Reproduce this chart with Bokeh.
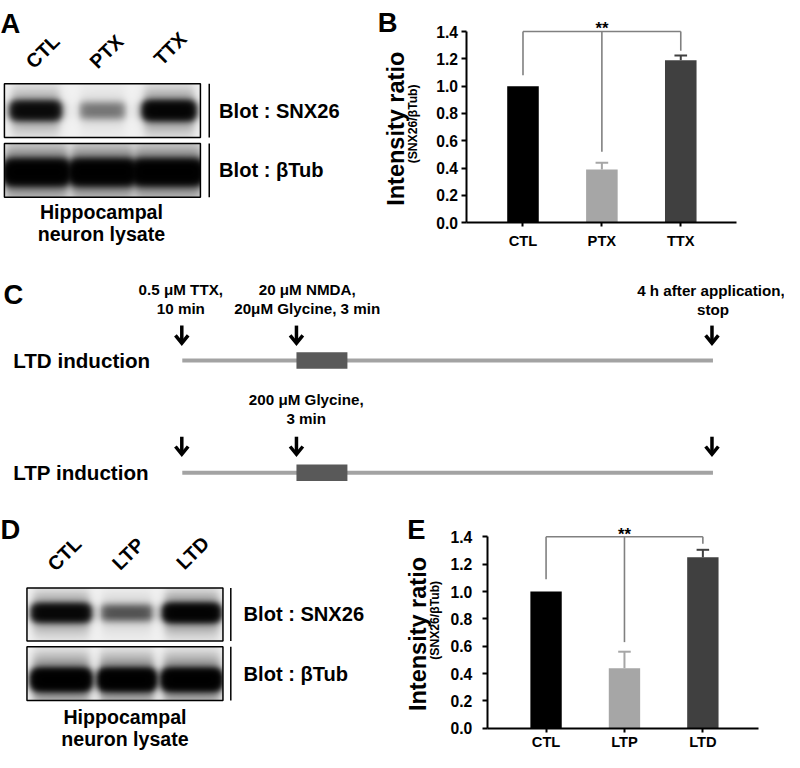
import numpy as np
from bokeh.plotting import figure
from bokeh.models import Range1d, LinearAxis, FixedTicker, NumeralTickFormatter
from bokeh.core.properties import value
from bokeh.embed import file_html
from bokeh.resources import INLINE

S = 0.98            # page pixels per reference pixel
FONT = "Liberation Sans"

# ---------------- data ----------------
blotA_lanes = ["CTL", "PTX", "TTX"]
blotA_snx26 = [0.9, 0.2, 1.1]
blotA_btub = [1.6, 1.6, 1.6]

blotD_lanes = ["CTL", "LTP", "LTD"]
blotD_snx26 = [1.0, 0.3, 1.2]
blotD_btub = [1.6, 1.6, 1.6]

b_categories = ["CTL", "PTX", "TTX"]
b_values = [1.0, 0.39, 1.19]
b_errors = [0.0, 0.05, 0.035]
b_bracket_top = 1.40
b_bracket_feet = [1.08, 0.52, 1.26]

e_categories = ["CTL", "LTP", "LTD"]
e_values = [1.0, 0.44, 1.25]
e_errors = [0.0, 0.12, 0.055]
e_bracket_top = 1.40
e_bracket_feet = [1.09, 0.63, 1.35]

y_ticks = [0.0, 0.2, 0.4, 0.6, 0.8, 1.0, 1.2, 1.4]
bar_colors = ["#000000", "#a6a6a6", "#404040"]
y_title = "Intensity ratio"
y_subtitle = "(SNX26/βTub)"

ltd_notes = [("0.5 μM TTX,", "10 min"), ("20 μM NMDA,", "20μM Glycine, 3 min"),
             ("4 h after application,", "stop")]
ltp_notes = [("200 μM Glycine,", "3 min")]
protocols = ["LTD induction", "LTP induction"]


def px(v):
    return f"{v * S:.1f}px"


# One page-sized figure; the main ranges are layout coordinates of the figure sheet.
p = figure(width=784, height=752, x_range=Range1d(0, 800), y_range=Range1d(768, 0),
           output_backend="svg", toolbar_location=None, min_border=0,
           x_axis_location=None, y_axis_location=None)
p.grid.visible = False
p.outline_line_color = None


def txt(x, y, t, size, align="left", baseline="middle", angle=0.0):
    p.text(x=[x], y=[y], text=[t], text_font=value(FONT), text_font_style="bold",
           text_font_size=value(px(size)), text_align=align, text_baseline=baseline,
           angle=angle, text_color="black")


def blot(box, centers, halfw, cy, hh, intens):
    x0, x1, y0, y1 = box
    res = 2
    nx, ny = int((x1 - x0) * res), int((y1 - y0) * res)
    xs = x0 + (np.arange(nx) + 0.5) / res
    ys = y0 + (np.arange(ny) + 0.5) / res
    X, Y = np.meshgrid(xs, ys)
    acc = np.zeros_like(X)
    for c, hw, inten in zip(centers, halfw, intens):
        h = 1.0 / (1.0 + np.exp((np.abs(X - c) - hw) / 2.5))
        v = np.exp(-np.abs((Y - cy) / hh) ** 2.6) + 0.18 * np.exp(-((Y - cy) / (2.2 * hh)) ** 2)
        acc += inten * h * v
    dark = 1.0 - np.exp(-3.0 * acc)
    g = np.clip(242 - 242 * dark, 0, 255).astype(np.uint32)
    img = np.ascontiguousarray((np.uint32(255) << 24) | (g << 16) | (g << 8) | g)
    p.image_rgba(image=[img], x=(x0 + x1) / 2, y=(y0 + y1) / 2, dw=x1 - x0, dh=y1 - y0,
                 anchor="center", origin="top_left")
    p.quad(left=[x0], right=[x1], top=[y0], bottom=[y1], fill_color=None,
           line_color="black", line_width=1.5)


def blot_panel(letter, ly, lanes, lane_pos, box1, box2, sep_x, text_x,
               snx, btub, s_geo, b_geo, cap_x, cap_y):
    txt(0, ly, letter, 28, baseline="alphabetic")
    for (x, y), t in zip(lane_pos, lanes):
        txt(x, y, t, 20, align="center", angle=np.pi / 4)
    blot(box1, *s_geo, snx)
    blot(box2, *b_geo, btub)
    p.segment(x0=[sep_x, sep_x], y0=[box1[2], box2[2]], x1=[sep_x, sep_x],
              y1=[box1[3], box2[3]], line_color="black", line_width=1.5)
    txt(text_x, (box1[2] + box1[3]) / 2, "Blot : SNX26", 20.5)
    txt(text_x, (box2[2] + box2[3]) / 2, "Blot : βTub", 20.5)
    txt(cap_x, cap_y[0], "Hippocampal", 20, align="center")
    txt(cap_x, cap_y[1], "neuron lysate", 20, align="center")


# ---------------- panel A ----------------
blot_panel("A", 23, blotA_lanes, [(43, 52), (108, 52), (173, 49)],
           (4, 204, 85, 140), (4, 204, 146, 201), 213, 223,
           blotA_snx26, blotA_btub,
           ([36, 104, 172], [24, 22, 25], 112, 9),
           ([37, 104, 171], [31, 31, 33], 171, 11),
           103, (216, 238))

# ---------------- panel D ----------------
blot_panel("D", 540, blotD_lanes, [(65, 565), (130, 565), (196, 564)],
           (27, 227, 600, 654), (27, 227, 660, 715), 235, 248,
           blotD_snx26, blotD_btub,
           ([62, 129, 195], [28, 25, 27], 628, 8.5),
           ([62, 129, 195], [28, 27, 28], 681, 9.5),
           127, (732, 754))


# ---------------- bar charts (own scales + fixed-location axes) ----------------
def bar_chart(name, cats, vals, errs, btop, bfeet, x_left, px_x0, unit_x,
              px_y0, unit_y, x_right, y_standoff, x_standoff,
              letter, letter_pos, title_pos, sub_pos):
    # data ranges mapping onto the whole sheet: value x sits at px_x0 + (x - x_left)*unit_x
    xr = Range1d(x_left - px_x0 / unit_x, x_left + (800 - px_x0) / unit_x)
    yr = Range1d(-(768 - px_y0) / unit_y, px_y0 / unit_y)
    xn, yn = name + "_x", name + "_y"
    p.extra_x_ranges[xn] = xr
    p.extra_y_ranges[yn] = yr
    kw = dict(x_range_name=xn, y_range_name=yn)

    yax = LinearAxis(ticker=FixedTicker(ticks=y_ticks),
                     formatter=NumeralTickFormatter(format="0.0"), bounds=(0, 1.4),
                     fixed_location=x_left, **kw)
    xax = LinearAxis(ticker=FixedTicker(ticks=list(range(len(cats)))),
                     major_label_overrides={i: c for i, c in enumerate(cats)},
                     bounds=(x_left, x_right), fixed_location=0, **kw)
    for ax, fs, so, tick in ((yax, 16, y_standoff, 5), (xax, 15, x_standoff, 4)):
        ax.axis_line_width = 2
        ax.axis_line_color = "black"
        ax.major_tick_line_width = 2
        ax.major_tick_out = tick
        ax.major_tick_in = 0
        ax.minor_tick_out = 0
        ax.minor_tick_in = 0
        ax.major_label_text_font = FONT
        ax.major_label_text_font_style = "bold"
        ax.major_label_text_font_size = px(fs)
        ax.major_label_text_color = "black"
        ax.major_label_standoff = so
    p.add_layout(yax, "left")
    p.add_layout(xax, "below")

    xs = list(range(len(cats)))
    p.vbar(x=xs, top=vals, width=0.4, bottom=0, fill_color=bar_colors, line_color=None, **kw)
    for x, v, e, c in zip(xs, vals, errs, bar_colors):
        if e > 0:
            p.segment(x0=[x], y0=[v], x1=[x], y1=[v + e], line_color=c, line_width=2, **kw)
            p.segment(x0=[x - 0.08], y0=[v + e], x1=[x + 0.08], y1=[v + e],
                      line_color=c, line_width=2, **kw)
    p.segment(x0=[xs[0]] + xs, y0=[btop] + [btop] * len(xs),
              x1=[xs[-1]] + xs, y1=[btop] + bfeet,
              line_color="#808080", line_width=1.6, **kw)
    p.text(x=[(xs[0] + xs[-1]) / 2], y=[btop + 0.02], text=["**"],
           text_font=value(FONT), text_font_style="bold", text_font_size=value(px(17)),
           text_align="center", text_baseline="alphabetic", text_color="black", **kw)

    txt(letter_pos[0], letter_pos[1], letter, 28, baseline="alphabetic")
    txt(title_pos[0], title_pos[1], y_title, 24, align="center", angle=np.pi / 2)
    txt(sub_pos[0], sub_pos[1], y_subtitle, 12.5, align="center", angle=np.pi / 2)


bar_chart("b", b_categories, b_values, b_errors, b_bracket_top, b_bracket_feet,
          -0.71, 476, 80.5, 227, 139.5, 2.71, 4, 6,
          "B", (385, 22), (404, 131), (421, 126))
bar_chart("e", e_categories, e_values, e_errors, e_bracket_top, e_bracket_feet,
          -0.75, 496.7, 80, 743.3, 139.7, 2.71, 10, 2,
          "E", (415, 540), (426, 647), (443, 633))

# ---------------- panel C ----------------
txt(3, 300, "C", 28, baseline="alphabetic")
line_y = [367.7, 482.3]
arrow_x = [185, 302, 726]
arrow_bottom = [350, 463.5]
for ry, name, ab in zip(line_y, protocols, arrow_bottom):
    txt(13, ry, name, 21)
    p.quad(left=[185.5], right=[727], top=[ry - 2], bottom=[ry + 2],
           fill_color="#a3a3a3", line_color=None)
    p.quad(left=[302], right=[354], top=[ry - 8.5], bottom=[ry + 8.5],
           fill_color="#595959", line_color=None)
    p.segment(x0=arrow_x, y0=[ab - 18] * 3, x1=arrow_x, y1=[ab - 1.5] * 3,
              line_color="black", line_width=3.5)
    p.multi_line(xs=[[ax - 6.5, ax, ax + 6.5] for ax in arrow_x],
                 ys=[[ab - 8, ab, ab - 8]] * 3, line_color="black", line_width=3.5,
                 line_join="miter")

for (l1, l2), (x, y) in zip(ltd_notes, [(184, 295), (313, 295), (725, 296)]):
    txt(x, y, l1, 15.5, align="center")
    txt(x if x != 725 else 727, y + 20, l2, 15.5, align="center")
for (l1, l2), (x, y) in zip(ltp_notes, [(312, 407)]):
    txt(x, y, l1, 15.5, align="center")
    txt(x, y + 20, l2, 15.5, align="center")

open("out.html", "w").write(file_html(p, INLINE))
